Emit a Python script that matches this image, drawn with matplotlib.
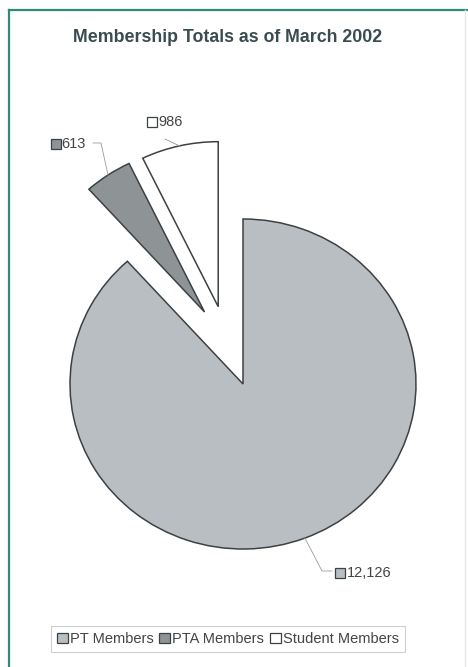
import matplotlib
matplotlib.use("Agg")
import matplotlib.pyplot as plt
from matplotlib.patches import Patch
from matplotlib.lines import Line2D
import numpy as np

plt.rcParams['font.family'] = ['Liberation Sans', 'DejaVu Sans']

# ---- data ----
categories = ["PT Members", "PTA Members", "Student Members"]
values = [12126, 613, 986]
value_labels = ["12,126", "613", "986"]
colors = ["#b8bec2", "#8e9395", "#ffffff"]
explode = [0.0, 0.49, 0.49]
explode_dir = [None, 117.0, 107.0]   # style: direction of the offset (deg)
title = "Membership Totals as of March 2002"

W, H = 468, 667
fig = plt.figure(figsize=(W / 100, H / 100), dpi=100)
fig.patch.set_facecolor("white")

# pie geometry in pixels (slightly elliptical as in the scan)
CX, CY, RX, RY = 243, 384, 173, 165
XL, YL = 1.4, 1.6
ax = fig.add_axes([(CX - XL * RX) / W, (H - CY - YL * RY) / H,
                   2 * XL * RX / W, 2 * YL * RY / H])

def px2d(px, py):
    return ((px - CX) / RX, (CY - py) / RY)

wedges, _ = ax.pie(values, colors=colors, explode=explode, startangle=90,
                   counterclock=False, radius=1.0,
                   wedgeprops=dict(edgecolor="#3c4144", linewidth=1.1))
for w, e, d in zip(wedges, explode, explode_dir):
    if d is not None:
        w.set_center((e * np.cos(np.deg2rad(d)), e * np.sin(np.deg2rad(d))))
ax.set_aspect("auto")
ax.set_xlim(-XL, XL)
ax.set_ylim(-YL, YL)
ax.set_axis_off()

# label layout (pixels): leader elbow points, key centre, text left
label_layout = {
    0: dict(elbow=[(322, 571), (332, 571)], key=(340, 573), text=347),
    1: dict(elbow=[(101, 143), (93, 143)], key=(55.5, 143.5), text=61),
    2: dict(elbow=[(165, 139)], key=(151.5, 122), text=158),
}

for i, w in enumerate(wedges):
    mid = np.deg2rad((w.theta1 + w.theta2) / 2)
    cx, cy = w.center
    ax_ = cx + w.r * np.cos(mid)
    ay_ = cy + w.r * np.sin(mid)
    lay = label_layout[i]
    pts = [(ax_, ay_)] + [px2d(*p) for p in lay["elbow"]]
    xs, ys = zip(*pts)
    ax.plot(xs, ys, color="#9a9a9a", lw=0.6, clip_on=False)
    kx, ky = px2d(*lay["key"])
    ax.plot([kx], [ky], marker="s", markersize=7, markerfacecolor=colors[i],
            markeredgecolor="#3c4144", markeredgewidth=0.9, clip_on=False)
    tx, _ty = px2d(lay["text"], lay["key"][1])
    ax.text(tx, ky, value_labels[i], ha="left", va="center", fontsize=10.5,
            color="#444444")

# title
fig.text(228 / W, 1 - 37 / H, title, ha="center", va="center",
         fontsize=12.8, fontweight="bold", color="#3b4b52")

# legend
handles = [Patch(facecolor=c, edgecolor="#3c4144", linewidth=0.9) for c in colors]
leg = fig.legend(handles, categories, loc="center", ncol=3,
                 bbox_to_anchor=(228 / W, 1 - 639 / H), fontsize=10.5,
                 frameon=True, fancybox=False, handlelength=0.75,
                 handleheight=0.75, handletextpad=0.15, columnspacing=0.4,
                 borderpad=0.38, borderaxespad=0)
leg.get_frame().set_edgecolor("#c4c4c4")
leg.get_frame().set_linewidth(0.8)
for t in leg.get_texts():
    t.set_color("#444444")

# teal border (top and left visible; bottom beyond the image)
fig.add_artist(Line2D([9 / W, 9 / W], [0, 1 - 10 / H], color="#2f8a78", lw=1.6,
                      transform=fig.transFigure))
fig.add_artist(Line2D([9 / W, 1], [1 - 10 / H, 1 - 10 / H], color="#2f8a78", lw=1.6,
                      transform=fig.transFigure))
fig.add_artist(Line2D([465 / W, 465 / W], [0, 1 - 10 / H], color="#e4e8e8", lw=1.0,
                      transform=fig.transFigure))

fig.savefig("out.png", dpi=100)
